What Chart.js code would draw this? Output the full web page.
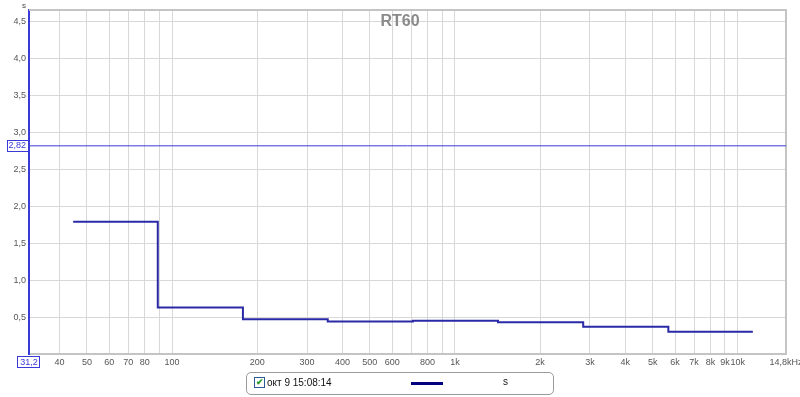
<!DOCTYPE html>
<html>
<head>
<meta charset="utf-8">
<script src="https://cdn.jsdelivr.net/npm/chart.js@4/dist/chart.umd.min.js"></script>
<style>
  html, body { margin: 0; padding: 0; background: #fff; }
  #wrap { position: relative; width: 800px; height: 397px; }
  #legend {
    position: absolute; left: 246px; top: 372px; width: 306px; height: 21px;
    border: 1px solid #9a9a9a; border-radius: 5px; box-sizing: content-box;
    font: 10px "Liberation Sans", sans-serif; color: #111;
  }
  #legend .chk {
    position: absolute; left: 7px; top: 4px; width: 9px; height: 9px;
    border: 1px solid #2a5a9a; background: #fff;
    font-size: 9px; line-height: 9px; text-align: center; color: #2a9a2a; font-weight: bold;
  }
  #legend .name { position: absolute; left: 20px; top: 4px; }
  #legend .line { position: absolute; left: 164px; top: 9px; width: 32px; height: 3px; background: #000080; }
  #legend .unit { position: absolute; left: 256px; top: 3px; }
</style>
</head>
<body>
<div id="wrap">
  <canvas id="rt60" width="800" height="397"></canvas>
  <div id="legend">
    <span class="chk">✔</span>
    <span class="name">окт 9 15:08:14</span>
    <span class="line"></span>
    <span class="unit">s</span>
  </div>
</div>
<script>
// octave band edges (Hz) and RT60 per band (s)
const bandEdges = [44.7, 89, 178, 355, 710, 1420, 2840, 5680, 11300];
const rt60 = [1.79, 0.63, 0.47, 0.44, 0.45, 0.43, 0.37, 0.30];
const markerValue = 2.82;

const xTicks = [31.2, 40, 50, 60, 70, 80, 90, 100, 200, 300, 400, 500, 600, 700, 800, 900,
  1000, 2000, 3000, 4000, 5000, 6000, 7000, 8000, 9000, 10000, 14800];
const xTickLabels = ["31,2", "40", "50", "60", "70", "80", "", "100", "200", "300", "400", "500", "600", "", "800", "",
  "1k", "2k", "3k", "4k", "5k", "6k", "7k", "8k", "9k", "10k", "14,8kHz"];
const yTicks = [0, 0.5, 1, 1.5, 2, 2.5, markerValue, 3, 3.5, 4, 4.5];
const yTickLabels = ["", "0,5", "1,0", "1,5", "2,0", "2,5", "2,82", "3,0", "3,5", "4,0", "4,5"];

// each band value is held from its lower edge to the next edge
const stepPoints = bandEdges.map((f, i) => ({x: f, y: rt60[Math.min(i, rt60.length - 1)]}));
const markerLine = [{x: 31.2, y: markerValue}, {x: 14800, y: markerValue}];

const blue = "#3a3ad8";
const grid = "#d8d8d8";

const decor = {
  id: "decor",
  beforeDatasetsDraw(chart){
    const {ctx, chartArea: a} = chart;
    ctx.save();
    ctx.strokeStyle = "#c4c4c4";
    ctx.lineWidth = 2;
    ctx.beginPath();
    ctx.moveTo(a.left, a.top);
    ctx.lineTo(a.right, a.top);
    ctx.lineTo(a.right, a.bottom);
    ctx.stroke();
    ctx.restore();
  },
  afterDraw(chart){
    const {ctx, chartArea: a} = chart;
    const ys = chart.scales.y, xs = chart.scales.x;
    ctx.save();
    // title
    ctx.font = "bold 16px 'Liberation Sans', sans-serif";
    ctx.fillStyle = "#8a8a8a";
    ctx.textAlign = "center";
    ctx.textBaseline = "alphabetic";
    ctx.fillText("RT60", 400, 26);
    // unit
    ctx.font = "8px 'Liberation Sans', sans-serif";
    ctx.fillStyle = "#444";
    ctx.fillText("s", 24, 8);
    // boxed marker labels
    ctx.strokeStyle = blue;
    ctx.lineWidth = 1;
    const my = Math.round(ys.getPixelForValue(markerValue));
    ctx.strokeRect(7.5, my - 5.5, 21, 11);
    const mx = Math.round(xs.getPixelForValue(31.2));
    ctx.strokeRect(mx - 11.5, a.bottom + 2.5, 22, 11);
    ctx.restore();
  }
};

new Chart(document.getElementById("rt60"), {
  type: "line",
  data: {
    datasets: [
      {
        label: "2,82",
        data: markerLine,
        borderColor: blue,
        borderWidth: 1,
        pointRadius: 0
      },
      {
        label: "окт 9 15:08:14",
        data: stepPoints,
        stepped: "before",
        borderColor: "#2a2aa6",
        borderWidth: 2,
        pointRadius: 0
      }
    ]
  },
  options: {
    responsive: false,
    animation: false,
    events: [],
    layout: {padding: {left: 0, right: 14, top: 10, bottom: 23}},
    plugins: {legend: {display: false}, title: {display: false}, tooltip: {enabled: false}},
    scales: {
      x: {
        type: "logarithmic",
        min: 31.2,
        max: 14800,
        afterBuildTicks: (scale) => { scale.ticks = xTicks.map(v => ({value: v})); },
        afterFit: (scale) => { scale.height = 20; scale.paddingLeft = 0; scale.paddingRight = 0; },
        ticks: {
          autoSkip: false,
          maxRotation: 0,
          padding: 3,
          font: {family: "Liberation Sans", size: 9},
          color: (ctx) => ctx.index === 0 ? blue : "#555",
          callback: (value, index) => xTickLabels[index]
        },
        grid: {
          drawTicks: false,
          tickLength: 0,
          color: (ctx) => (ctx.index === 0 || ctx.index === xTicks.length - 1) ? "rgba(0,0,0,0)" : grid
        },
        border: {display: true, color: "#c4c4c4", width: 2}
      },
      y: {
        min: 0,
        max: 4.66,
        afterBuildTicks: (scale) => { scale.ticks = yTicks.map(v => ({value: v})); },
        afterFit: (scale) => { scale.width = 29; scale.paddingTop = 0; scale.paddingBottom = 0; },
        ticks: {
          autoSkip: false,
          padding: 3,
          font: {family: "Liberation Sans", size: 9},
          color: (ctx) => ctx.tick && ctx.tick.value === markerValue ? blue : "#555",
          callback: (value, index) => yTickLabels[index]
        },
        grid: {
          drawTicks: false,
          tickLength: 0,
          color: (ctx) => (ctx.tick && (ctx.tick.value === markerValue || ctx.tick.value === 0)) ? "rgba(0,0,0,0)" : grid
        },
        border: {display: true, color: blue, width: 2}
      }
    }
  },
  plugins: [decor]
});
</script>
</body>
</html>
